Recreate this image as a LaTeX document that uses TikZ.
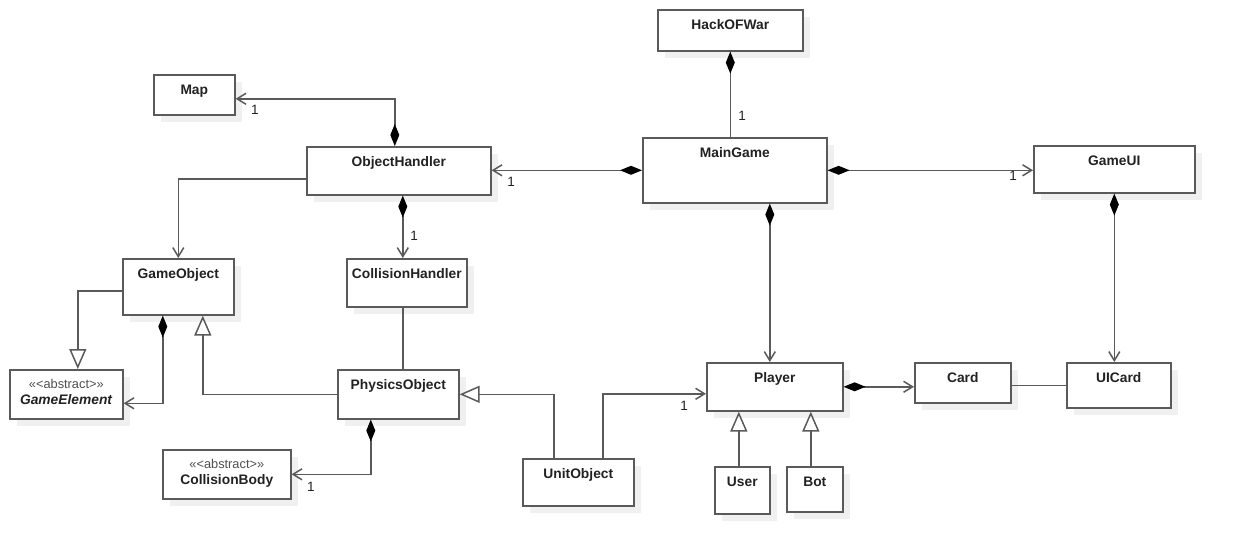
\documentclass[tikz,border=0pt]{standalone}
\usepackage{fontspec}
\setmainfont{Liberation Sans}
\usetikzlibrary{arrows.meta,shadows}
\definecolor{linegray}{HTML}{5A5A5A}
\definecolor{textgray}{HTML}{222222}
\definecolor{stereogray}{HTML}{505050}
\definecolor{shadegray}{HTML}{F0F0F0}
\newcommand{\stereotag}{{\mdseries\color{stereogray}\fontsize{12.8}{16}\selectfont «<abstract>»}}
\tikzset{
  cls/.style 2 args={draw=linegray, line width=1.6pt, fill=white, anchor=north west,
    inner sep=0pt, minimum width=#1pt, text height=19.5pt, text depth=#2pt-19.5pt,
    text=textgray, font=\fontsize{13.8}{16}\selectfont\bfseries,
    drop shadow={shadow xshift=7pt, shadow yshift=-7pt, fill=shadegray, opacity=1}},
  abscls/.style 2 args={cls={#1}{#2}, text height=34.3pt, text depth=#2pt-34.3pt},
  mult/.style={font=\fontsize{13.5}{16}\selectfont, text=textgray, inner sep=0pt},
  conn/.style={draw=linegray, line width=1.5pt},
  nav/.style={conn, -{Straight Barb[length=9pt,width=11pt]}},
  comp/.style={conn, {Diamond[length=22pt,width=9pt,color=black]}-},
  compnav/.style={conn, {Diamond[length=22pt,width=9pt,color=black]}-{Straight Barb[length=9pt,width=11pt]}},
  gen/.style={conn, -{Triangle[open,length=20pt,width=17pt]}},
}
\begin{document}
\begin{tikzpicture}[x=1pt,y=-1pt]
\useasboundingbox (0,0) rectangle (1234,553);

% classes
\node[cls={145}{41}] (hack) at (657,9) {HackOFWar};
\node[cls={184}{65}] (maingame) at (642,137) {MainGame};
\node[cls={184}{48}] (objh) at (306,146) {ObjectHandler};
\node[cls={81}{40}] (map) at (153,74) {Map};
\node[cls={161}{47}] (gameui) at (1033,145) {GameUI};
\node[cls={111}{56}] (gobj) at (122,258) {GameObject};
\node[cls={120}{48}] (colh) at (346,258) {CollisionHandler};
\node[abscls={113}{49}] (gelem) at (9,369) {\begin{tabular}[b]{@{}c@{}}\stereotag\\ \textit{GameElement}\end{tabular}};
\node[cls={121}{49}] (phys) at (337,369) {PhysicsObject};
\node[abscls={128}{49}] (cbody) at (162,449) {\begin{tabular}[b]{@{}c@{}}\stereotag\\ CollisionBody\end{tabular}};
\node[cls={111}{47}] (unit) at (522,458) {UnitObject};
\node[cls={136}{48}] (player) at (706,362) {Player};
\node[cls={96}{40}] (card) at (914,362) {Card};
\node[cls={104}{45}] (uicard) at (1066,362) {UICard};
\node[cls={55}{47}] (user) at (714,466) {User};
\node[cls={56}{45}] (bot) at (786,466) {Bot};

% compositions
\draw[comp] (hack.south) -- (hack.south |- maingame.north);
\draw[compnav] (maingame.west) -- (objh.east |- maingame.west);
\draw[compnav] (maingame.east) -- (gameui.west |- maingame.east);
\draw[compnav] ([xshift=35pt]maingame.south) -- ([xshift=35pt]maingame.south |- player.north);
\draw[compnav] (gameui.south) -- (gameui.south |- uicard.north);
\draw[compnav] ([xshift=-4pt]objh.north) |- ([yshift=-4pt]map.east);
\draw[compnav] ([xshift=4pt]objh.south) -- ([xshift=4pt]objh.south |- colh.north);
\draw[compnav] ([xshift=-15.5pt]gobj.south) |- ([yshift=-9pt]gelem.east);
\draw[compnav] ([xshift=-27.5pt]phys.south) |- (cbody.east);
\draw[compnav] (player.east) -- (card.west |- player.east);

% associations
\draw[nav] ([yshift=-8pt]objh.west) -| (gobj.north);
\draw[nav] ([xshift=24.5pt]unit.north) |- ([yshift=-7pt]player.west);
\draw[conn] ([xshift=-4pt]colh.south) -- ([xshift=-4pt]colh.south |- phys.north);
\draw[conn] (card.east |- uicard.west) -- (uicard.west);

% generalizations
\draw[gen] ([yshift=-4pt]gobj.west) -| ([xshift=11.5pt]gelem.north);
\draw[gen] (phys.west) -| ([xshift=24.5pt]gobj.south);
\draw[gen] ([xshift=-24.5pt]unit.north) |- (phys.east);
\draw[gen] ([xshift=-3.5pt]user.north) -- ([xshift=-3.5pt]user.north |- player.south);
\draw[gen] ([xshift=-4pt]bot.north) -- ([xshift=-4pt]bot.north |- player.south);

% multiplicities
\node[mult] (m-hack) at (742,116) {1};
\node[mult] (m-objh) at (511,182) {1};
\node[mult] (m-gameui) at (1013,176) {1};
\node[mult] (m-map) at (255,110) {1};
\node[mult] (m-colh) at (414,236) {1};
\node[mult] (m-cbody) at (311,487) {1};
\node[mult] (m-player) at (684,406) {1};
\end{tikzpicture}
\end{document}
